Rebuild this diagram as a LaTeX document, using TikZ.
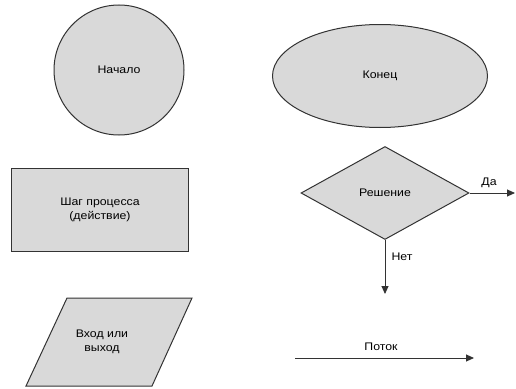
\documentclass[tikz,border=0pt]{standalone}
\usepackage{fontspec}
\setmainfont[FakeStretch=1.12]{Liberation Sans}
\usetikzlibrary{shapes.geometric,arrows.meta}
\definecolor{shapefill}{HTML}{D9D9D9}
\definecolor{edge}{HTML}{333333}
\begin{document}
\begin{tikzpicture}[x=1pt,y=-1pt,
  blk/.style={draw=edge,line width=1pt,fill=shapefill,inner sep=0pt,font=\fontsize{11}{14}\selectfont,align=center},
  lbl/.style={font=\fontsize{11}{14}\selectfont,inner sep=0pt},
  flow/.style={draw=edge,line width=0.9pt,-{Triangle[length=8pt,width=7pt]}}]
\useasboundingbox (0,0) rectangle (516,388);
\node[blk,circle,minimum size=130pt] (start) at (119,70) {Начало};
\node[blk,ellipse,minimum width=215pt,minimum height=103pt] (end) at (380,76) {Конец};
\node[blk,rectangle,minimum width=177pt,minimum height=83pt] (proc) at (100,210) {Шаг процесса\\(действие)};
\node[blk,diamond,minimum width=168pt,minimum height=93pt] (dec) at (385,193) {Решение};
\coordinate (yes) at (515,193);
\coordinate (no) at (385,294);
\draw[flow] (dec.east) -- (yes);
\draw[flow] (dec.south) -- (no);
\node[lbl] (da) at (489,183) {Да};
\node[lbl] (net) at (402,257) {Нет};
\draw[draw=edge,line width=1pt,fill=shapefill] (26,386) -- (67,298) -- (192,298) -- (152,386) -- cycle;
\node[lbl,align=center] (io) at (102,342) {Вход или\\выход};
\coordinate (fa) at (295,358);
\coordinate (fb) at (474,358);
\draw[flow] (fa) -- (fb);
\node[lbl] (potok) at (381,347) {Поток};
\end{tikzpicture}
\end{document}
